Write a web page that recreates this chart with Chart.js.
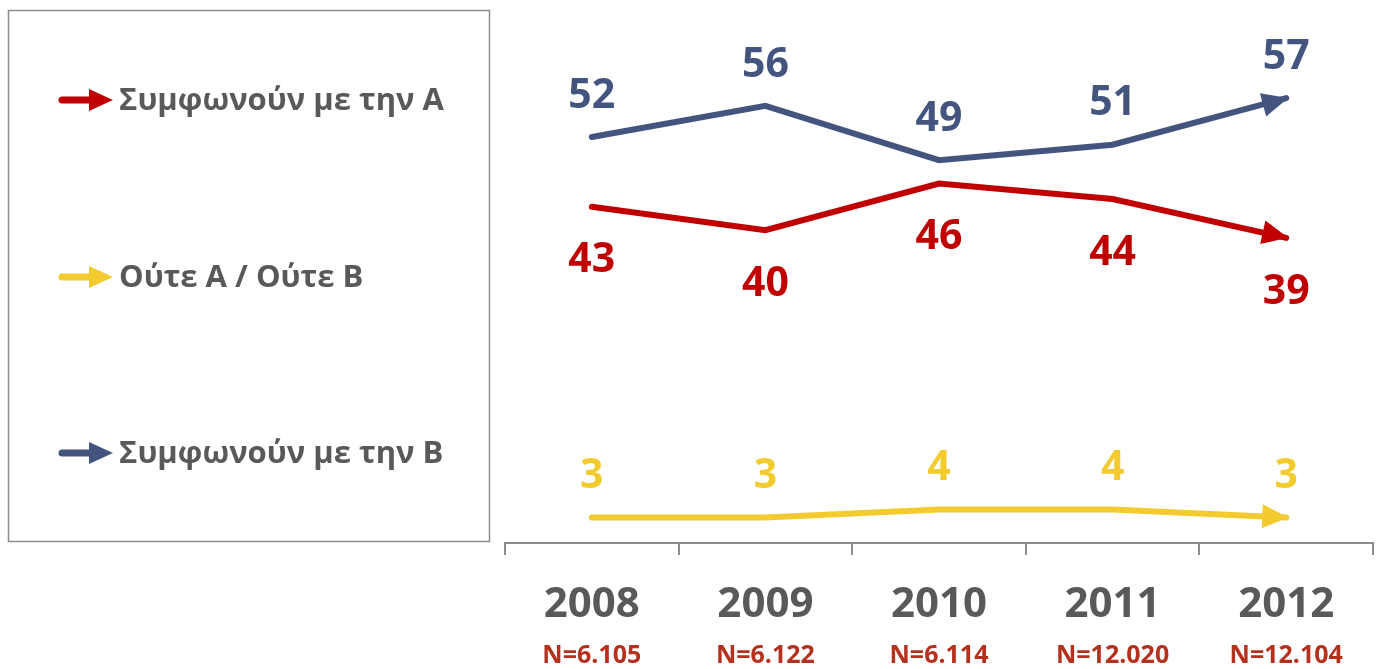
<!DOCTYPE html>
<html>
<head>
<meta charset="utf-8">
<script src="https://cdn.jsdelivr.net/npm/chart.js@4.4.0/dist/chart.umd.min.js"></script>
<style>
  html, body { margin: 0; padding: 0; background: #fff; }
  #wrap { width: 1381px; height: 669px; position: relative; }
</style>
</head>
<body>
<div id="wrap"><canvas id="chart"></canvas></div>
<script>
// chart data
const years = ['2008', '2009', '2010', '2011', '2012'];
const sampleSizes = ['N=6.105', 'N=6.122', 'N=6.114', 'N=12.020', 'N=12.104'];
const agreeA = [43, 40, 46, 44, 39];
const neither = [3, 3, 4, 4, 3];
const agreeB = [52, 56, 49, 51, 57];

const seriesNames = ['Συμφωνούν με την A', 'Ούτε A / Ούτε B', 'Συμφωνούν με την B'];
const seriesColors = ['#C00000', '#F4CB2F', '#43557F'];
// label placement: -1 above the point, 1 below
const labelSide = [1, -1, -1];

const FONT = '"Open Sans", "Noto Sans", sans-serif';
const textGray = '#595959';
const nColor = '#B5301D';
const axisGray = '#8C8C8C';

function drawArrow(ctx, x0, y0, x1, y1, color, len, half) {
  const ang = Math.atan2(y1 - y0, x1 - x0);
  ctx.save();
  ctx.fillStyle = color;
  ctx.beginPath();
  ctx.moveTo(x1, y1);
  ctx.lineTo(x1 - len * Math.cos(ang) + half * Math.sin(ang), y1 - len * Math.sin(ang) - half * Math.cos(ang));
  ctx.lineTo(x1 - len * Math.cos(ang) - half * Math.sin(ang), y1 - len * Math.sin(ang) + half * Math.cos(ang));
  ctx.closePath();
  ctx.fill();
  ctx.restore();
}

// arrowheads, value labels, year labels and the legend box
const decorPlugin = {
  id: 'decor',
  afterDatasetsDraw(chart) {
    const ctx = chart.ctx;
    const xScale = chart.scales.x;

    chart.data.datasets.forEach((ds, i) => {
      const pts = chart.getDatasetMeta(i).data;
      const last = pts[pts.length - 1];
      const prev = pts[pts.length - 2];
      drawArrow(ctx, prev.x, prev.y, last.x + 2, last.y, ds.borderColor, 26, 12);

      ctx.save();
      ctx.fillStyle = ds.borderColor;
      ctx.font = 'bold 41px ' + FONT;
      ctx.textAlign = 'center';
      ctx.textBaseline = 'middle';
      pts.forEach((p, j) => {
        const off = labelSide[i] > 0 ? 54 : -41;
        ctx.fillText(String(ds.data[j]), p.x, p.y + off);
      });
      ctx.restore();
    });

    // category labels under the axis
    ctx.save();
    ctx.textAlign = 'center';
    ctx.textBaseline = 'middle';
    years.forEach((y, j) => {
      const x = xScale.getPixelForValue(j);
      ctx.fillStyle = textGray;
      ctx.font = 'bold 42px ' + FONT;
      ctx.fillText(y, x, 605);
      ctx.fillStyle = nColor;
      ctx.font = 'bold 25px ' + FONT;
      ctx.fillText(sampleSizes[j], x, 656);
    });
    ctx.restore();

    // legend box
    ctx.save();
    ctx.strokeStyle = axisGray;
    ctx.lineWidth = 1.5;
    ctx.strokeRect(8.5, 10.5, 481, 531);
    const legendY = [100, 277, 453];
    seriesNames.forEach((name, i) => {
      const y = legendY[i];
      ctx.strokeStyle = seriesColors[i];
      ctx.lineWidth = 7;
      ctx.lineCap = 'round';
      ctx.beginPath();
      ctx.moveTo(62, y);
      ctx.lineTo(92, y);
      ctx.stroke();
      drawArrow(ctx, 60, y, 113, y, seriesColors[i], 24, 11);
      ctx.fillStyle = textGray;
      ctx.font = 'bold 31px ' + FONT;
      ctx.textAlign = 'left';
      ctx.textBaseline = 'middle';
      ctx.fillText(name, 119, y + 1);
    });
    ctx.restore();
  }
};

const datasets = [agreeA, neither, agreeB].map((vals, i) => ({
  label: seriesNames[i],
  data: vals,
  borderColor: seriesColors[i],
  backgroundColor: seriesColors[i],
  borderWidth: 6,
  borderCapStyle: 'round',
  pointRadius: 0,
  tension: 0,
  fill: false,
}));

new Chart(document.getElementById('chart'), {
  type: 'line',
  data: { labels: years, datasets: datasets },
  options: {
    responsive: true,
    maintainAspectRatio: false,
    animation: false,
    layout: { padding: { left: 505, right: 8, top: 36, bottom: 114 } },
    plugins: { legend: { display: false }, tooltip: { enabled: false } },
    scales: {
      x: {
        offset: true,
        grid: { offset: true, drawOnChartArea: false, color: axisGray, lineWidth: 2, tickLength: 12 },
        border: { color: axisGray, width: 2 },
        ticks: { display: false },
      },
      y: { display: false, min: -0.3, max: 65 },
    },
  },
  plugins: [decorPlugin],
});
</script>
</body>
</html>
